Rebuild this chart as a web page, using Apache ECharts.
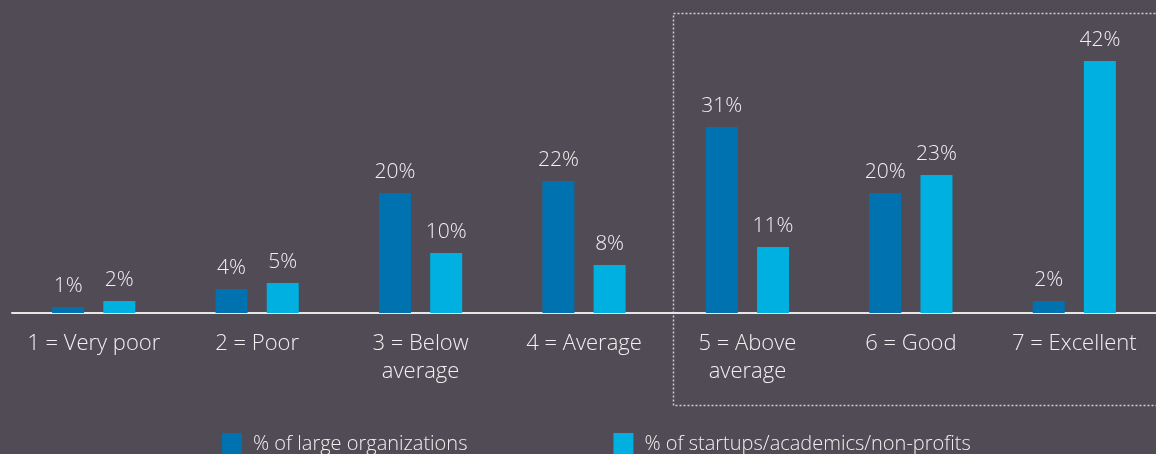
<!DOCTYPE html>
<html><head><meta charset="utf-8">
<script src="https://cdn.jsdelivr.net/npm/echarts@6/dist/echarts.min.js"></script>
<style>html,body{margin:0;padding:0;background:#504b54;}#c{width:1156px;height:454px;}</style>
</head><body><div id="c"></div>
<script>
const categories = ['1 = Very poor', '2 = Poor', '3 = Below\naverage', '4 = Average', '5 = Above\naverage', '6 = Good', '7 = Excellent'];
const largeOrgs = [1, 4, 20, 22, 31, 20, 2];
const startups = [2, 5, 10, 8, 11, 23, 42];
const seriesNames = ['% of large organizations', '% of startups/academics/non-profits'];

const chart = echarts.init(document.getElementById('c'));
const font = '"Open Sans", sans-serif';
const labelStyle = {show: true, position: 'top', distance: 10, color: '#f0f0f0', fontSize: 21, fontWeight: 300, fontFamily: font, formatter: '{c}%'};
chart.setOption({
  backgroundColor: '#504b54',
  animation: false,
  grid: {left: 12, width: 1148, top: 13, bottom: 141},
  legend: {
    bottom: -1, left: 222, padding: 0, itemGap: 146, itemWidth: 20, itemHeight: 22, icon: 'rect',
    textStyle: {color: '#f0f0f0', fontSize: 20, fontWeight: 300, fontFamily: font, padding: [0, 0, 0, 6]},
    data: seriesNames
  },
  xAxis: {
    type: 'category', data: categories,
    axisLine: {lineStyle: {color: '#e6e6e6', width: 2}},
    axisTick: {show: false},
    axisLabel: {interval: 0, color: '#f0f0f0', fontSize: 22, fontWeight: 300, fontFamily: font, margin: 17, lineHeight: 28}
  },
  yAxis: {type: 'value', min: 0, max: 50, show: false, splitLine: {show: false}},
  series: [
    {name: seriesNames[0], type: 'bar', data: largeOrgs, barWidth: 32, barGap: '60%', itemStyle: {color: '#0072b0'}, label: labelStyle},
    {name: seriesNames[1], type: 'bar', data: startups, barWidth: 32, itemStyle: {color: '#00b0e0'}, label: labelStyle}
  ],
  graphic: [{
    type: 'rect', shape: {x: 673.5, y: 13.5, width: 490, height: 392},
    style: {fill: 'none', stroke: '#d0d0d0', lineWidth: 1.5, lineDash: [2, 2]}, silent: true
  }]
});
</script></body></html>
